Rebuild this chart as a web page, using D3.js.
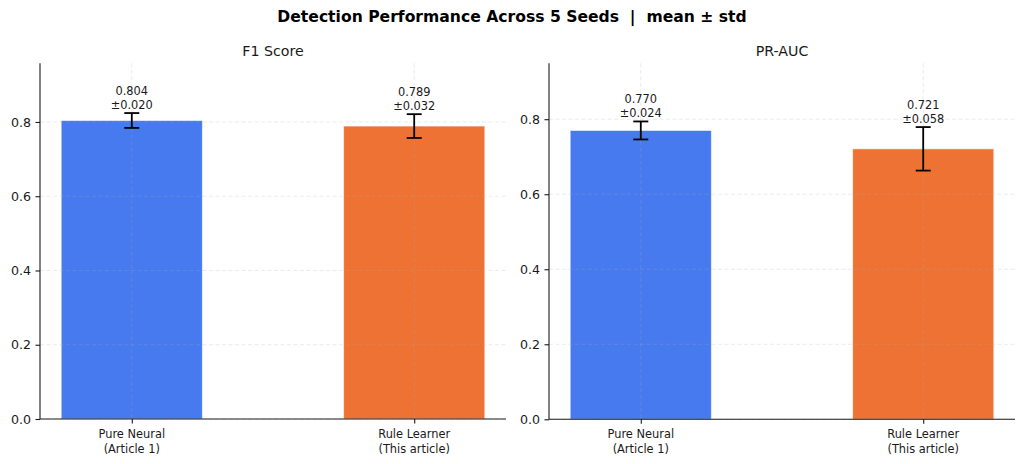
<!DOCTYPE html>
<html>
<head>
<meta charset="utf-8">
<script src="https://cdn.jsdelivr.net/npm/d3@7"></script>
<style>
  body { margin: 0; background: #fff; }
  text { font-family: "DejaVu Sans", sans-serif; fill: #1a1a1a; }
</style>
</head>
<body>
<svg id="chart" width="1024" height="464"></svg>
<script>
// data
const methods = ['Pure Neural\n(Article 1)', 'Rule Learner\n(This article)'];
const metrics = ['F1 Score', 'PR-AUC'];
const f1Mean = [0.804, 0.789];
const f1Std = [0.020, 0.032];
const prMean = [0.770, 0.721];
const prStd = [0.024, 0.058];
const yTicks = [0.0, 0.2, 0.4, 0.6, 0.8];
const barColors = ['#477aee', '#ee7234'];

const svg = d3.select('#chart');

svg.append('text')
	.attr('x', 512).attr('y', 22)
	.attr('text-anchor', 'middle')
	.style('font-size', '15.6px')
	.style('font-weight', 'bold')
	.style('fill', '#000')
	.attr('xml:space', 'preserve')
	.text('Detection Performance Across 5 Seeds  |  mean \u00b1 std');

const panels = [
	{title: metrics[0], mean: f1Mean, std: f1Std, left: 40, right: 506, top: 63.3, bottom: 419, ymax: 0.958},
	{title: metrics[1], mean: prMean, std: prStd, left: 549, right: 1015, top: 63.3, bottom: 419.3, ymax: 0.949}
];

panels.forEach(function(p) {
	const x = d3.scaleLinear().domain([-0.325, 1.325]).range([p.left, p.right]);
	const y = d3.scaleLinear().domain([0, p.ymax]).range([p.bottom, p.top]);
	const g = svg.append('g');

	// bars
	g.selectAll('rect.bar')
		.data(p.mean).enter().append('rect')
		.attr('class', 'bar')
		.attr('x', (d, i) => x(i - 0.25))
		.attr('width', x(0.25) - x(-0.25))
		.attr('y', d => y(d))
		.attr('height', d => y(0) - y(d))
		.attr('fill', (d, i) => barColors[i])
		.attr('stroke', 'rgba(255,255,255,0.6)')
		.attr('stroke-width', 1);

	// grid (drawn over bars, like matplotlib default)
	const grid = g.append('g');
	grid.selectAll('line.gy')
		.data(yTicks).enter().append('line')
		.attr('x1', p.left).attr('x2', p.right)
		.attr('y1', d => y(d)).attr('y2', d => y(d))
		.attr('stroke', 'rgba(176,176,176,0.28)')
		.attr('stroke-width', 0.9)
		.attr('stroke-dasharray', '4,2.5');
	grid.selectAll('line.gx')
		.data(methods).enter().append('line')
		.attr('x1', (d, i) => x(i)).attr('x2', (d, i) => x(i))
		.attr('y1', p.top).attr('y2', p.bottom)
		.attr('stroke', 'rgba(176,176,176,0.28)')
		.attr('stroke-width', 0.9)
		.attr('stroke-dasharray', '4,2.5');

	// error bars
	const eb = g.selectAll('g.err')
		.data(p.mean).enter().append('g')
		.attr('stroke', '#000')
		.attr('stroke-width', 1.8);
	eb.append('line')
		.attr('x1', (d, i) => x(i)).attr('x2', (d, i) => x(i))
		.attr('y1', (d, i) => y(d - p.std[i])).attr('y2', (d, i) => y(d + p.std[i]));
	eb.append('line')
		.attr('x1', (d, i) => x(i) - 7.5).attr('x2', (d, i) => x(i) + 7.5)
		.attr('y1', (d, i) => y(d + p.std[i])).attr('y2', (d, i) => y(d + p.std[i]));
	eb.append('line')
		.attr('x1', (d, i) => x(i) - 7.5).attr('x2', (d, i) => x(i) + 7.5)
		.attr('y1', (d, i) => y(d - p.std[i])).attr('y2', (d, i) => y(d - p.std[i]));

	// value labels
	const lab = g.selectAll('text.val')
		.data(p.mean).enter().append('text')
		.attr('text-anchor', 'middle')
		.style('font-size', '11.4px');
	lab.append('tspan')
		.attr('x', (d, i) => x(i))
		.attr('y', (d, i) => y(d + p.std[i]) - 18.5)
		.text(d => d.toFixed(3));
	lab.append('tspan')
		.attr('x', (d, i) => x(i))
		.attr('y', (d, i) => y(d + p.std[i]) - 4.5)
		.text((d, i) => '\u00b1' + p.std[i].toFixed(3));

	// axes
	const yAxis = g.append('g')
		.attr('transform', `translate(${p.left},0)`)
		.call(d3.axisLeft(y).tickValues(yTicks).tickFormat(d3.format('.1f')).tickSize(4.5).tickPadding(4.5));
	yAxis.select('.domain').attr('stroke', '#1a1a1a').attr('stroke-width', 1.1)
		.attr('d', `M0,${p.bottom}V${p.top}`);
	yAxis.selectAll('.tick line').attr('stroke', '#1a1a1a').attr('stroke-width', 1.1);
	yAxis.selectAll('.tick text').style('font-size', '12.6px').attr('fill', '#1a1a1a')
		.style('font-family', '"DejaVu Sans", sans-serif');

	const xAxis = g.append('g')
		.attr('transform', `translate(0,${p.bottom})`)
		.call(d3.axisBottom(x).tickValues([0, 1]).tickSize(4.5).tickFormat(''));
	xAxis.select('.domain').attr('stroke', '#1a1a1a').attr('stroke-width', 1.1)
		.attr('d', `M${p.left},0H${p.right}`);
	xAxis.selectAll('.tick line').attr('stroke', '#1a1a1a').attr('stroke-width', 1.1);

	const xl = g.selectAll('text.xl')
		.data(methods).enter().append('text')
		.attr('text-anchor', 'middle')
		.style('font-size', '11.4px');
	xl.each(function(d, i) {
		const t = d3.select(this);
		d.split('\n').forEach(function(line, k) {
			t.append('tspan')
				.attr('x', x(i))
				.attr('y', p.bottom + 19 + k * 14.6)
				.text(line);
		});
	});

	// panel title
	g.append('text')
		.attr('x', (p.left + p.right) / 2)
		.attr('y', p.top - 7.5)
		.attr('text-anchor', 'middle')
		.style('font-size', '14.2px')
		.text(p.title);
});
</script>
</body>
</html>
